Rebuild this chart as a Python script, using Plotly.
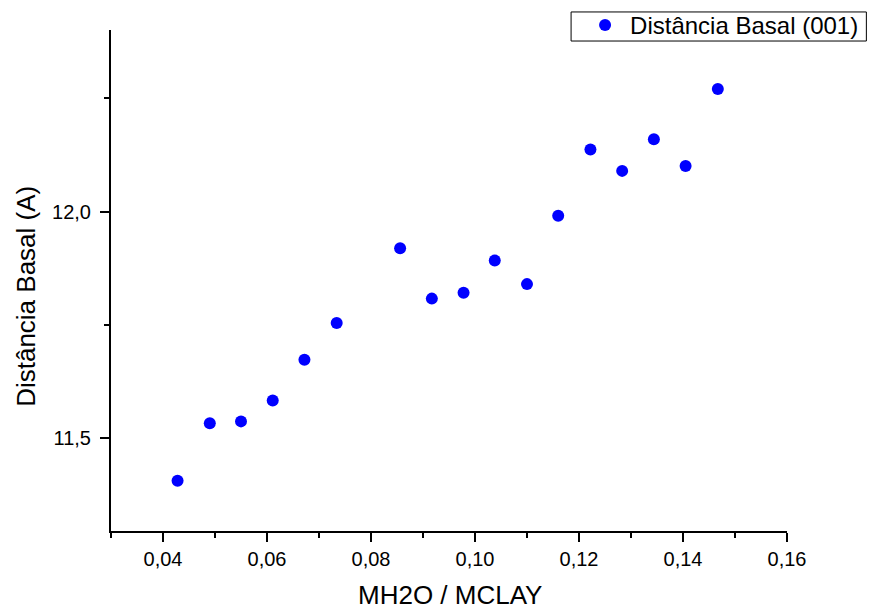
import plotly.graph_objects as go

x_ratio = [0.0428, 0.0490, 0.0550, 0.0611, 0.0672, 0.0734, 0.0856, 0.0917, 0.0978,
           0.1038, 0.1100, 0.1160, 0.1222, 0.1283, 0.1344, 0.1405, 0.1467]
basal = [11.406, 11.533, 11.537, 11.583, 11.673, 11.754, 11.919, 11.808, 11.821,
         11.892, 11.840, 11.991, 12.137, 12.090, 12.160, 12.101, 12.271]
series_name = "Distância Basal (001)"
x_title = "MH2O / MCLAY"
y_title = "Distância Basal (A)"

fig = go.Figure()
fig.add_trace(go.Scatter(
    x=x_ratio, y=basal, mode="markers", name=series_name,
    marker=dict(color="#0000FF", size=12, line=dict(width=0)),
    showlegend=True,
))

font_family = "Liberation Sans, Arial, sans-serif"

fig.update_layout(
    width=869, height=609,
    margin=dict(l=111, r=82, t=30, b=78, autoexpand=False),
    paper_bgcolor="white", plot_bgcolor="white",
    separators=",.",
    font=dict(family=font_family, color="black", size=20),
    showlegend=True,
    legend=dict(
        x=1.114, y=1.054, xanchor="right", yanchor="top",
        bgcolor="rgba(0,0,0,0)", borderwidth=0,
        font=dict(size=24, family=font_family, color="black"),
        itemsizing="constant", itemwidth=40,
    ),
    shapes=[
        dict(type="rect", xref="paper", yref="paper",
             x0=0.6806, x1=1.1174, y0=0.978, y1=1.036,
             line=dict(color="black", width=1), fillcolor="rgba(0,0,0,0)",
             layer="below"),
    ],
    xaxis=dict(
        range=[0.03, 0.16], tickmode="linear", tick0=0.04, dtick=0.02,
        tickformat=".2f", showgrid=False, zeroline=False, automargin=False,
        showline=True, linecolor="black", linewidth=2, mirror=False,
        ticks="outside", ticklen=9, tickwidth=2, tickcolor="black",
        tickfont=dict(size=20),
        minor=dict(dtick=0.01, tick0=0.03, ticks="outside", ticklen=5,
                   tickwidth=2, tickcolor="black", showgrid=False),
    ),
    yaxis=dict(
        range=[11.295, 12.401], tickmode="linear", tick0=11.5, dtick=0.5,
        tickformat=".1f", showgrid=False, zeroline=False, automargin=False,
        showline=True, linecolor="black", linewidth=2, mirror=False,
        ticks="outside", ticklen=9, tickwidth=2, tickcolor="black",
        tickfont=dict(size=20), ticklabelstandoff=5,
        minor=dict(dtick=0.25, tick0=11.5, ticks="outside", ticklen=5,
                   tickwidth=2, tickcolor="black", showgrid=False),
    ),
    annotations=[
        dict(text=x_title, xref="paper", yref="paper", x=0.501, y=-0.1277,
             xanchor="center", yanchor="middle", showarrow=False,
             font=dict(size=26, family=font_family, color="black")),
        dict(text=y_title, xref="paper", yref="paper", x=-0.126, y=0.469,
             xanchor="center", yanchor="middle", showarrow=False, textangle=-90,
             font=dict(size=26, family=font_family, color="black")),
    ],
)

fig.write_html("out.html")
